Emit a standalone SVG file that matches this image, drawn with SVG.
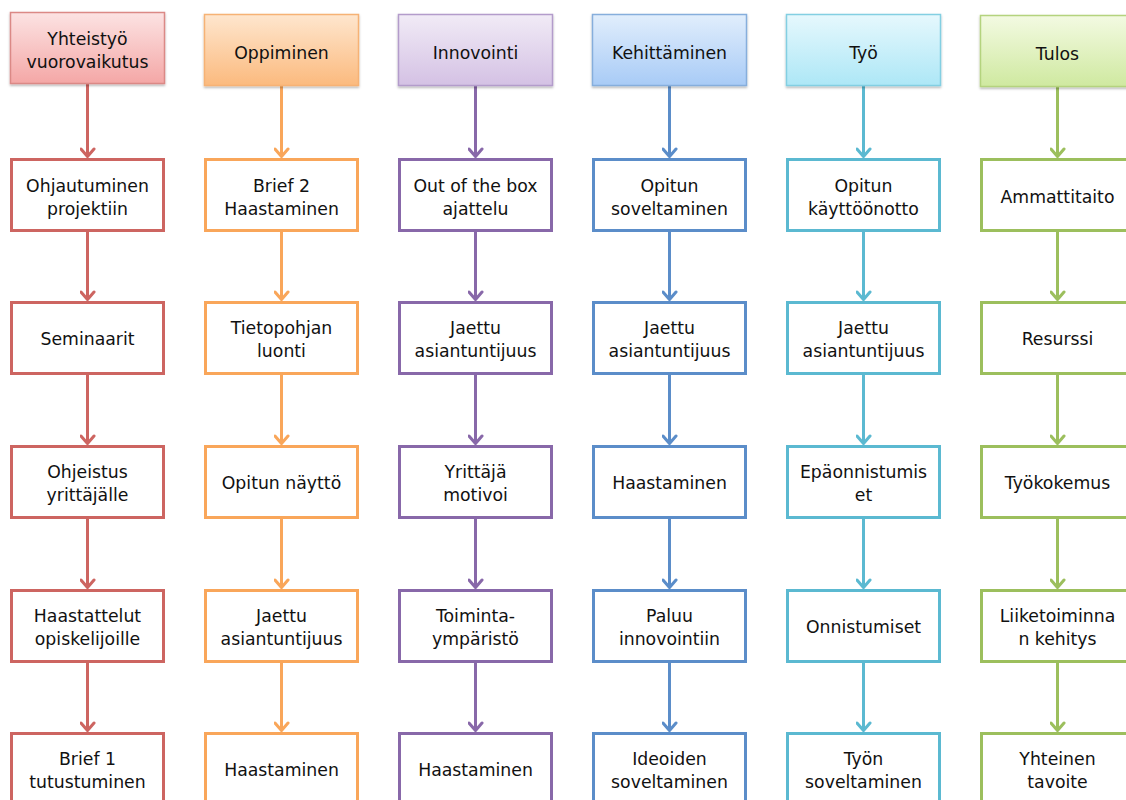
<svg xmlns="http://www.w3.org/2000/svg" width="1126" height="800" viewBox="0 0 1126 800">
<defs>
<linearGradient id="gR" x1="0" y1="0" x2="0" y2="1"><stop offset="0" stop-color="#FCE3E3"/><stop offset="1" stop-color="#F4A7A6"/></linearGradient>
<linearGradient id="gO" x1="0" y1="0" x2="0" y2="1"><stop offset="0" stop-color="#FEE6CE"/><stop offset="1" stop-color="#FBBA7E"/></linearGradient>
<linearGradient id="gP" x1="0" y1="0" x2="0" y2="1"><stop offset="0" stop-color="#F1EBF6"/><stop offset="1" stop-color="#D4C1E4"/></linearGradient>
<linearGradient id="gB" x1="0" y1="0" x2="0" y2="1"><stop offset="0" stop-color="#E1EEFC"/><stop offset="1" stop-color="#A8CBF6"/></linearGradient>
<linearGradient id="gC" x1="0" y1="0" x2="0" y2="1"><stop offset="0" stop-color="#E6F8FD"/><stop offset="1" stop-color="#ADE7F6"/></linearGradient>
<linearGradient id="gG" x1="0" y1="0" x2="0" y2="1"><stop offset="0" stop-color="#F3FAE2"/><stop offset="1" stop-color="#CFE9A0"/></linearGradient>
<filter id="sh" x="-10%" y="-10%" width="120%" height="130%"><feDropShadow dx="0" dy="1.5" stdDeviation="1.2" flood-color="#000" flood-opacity="0.3"/></filter>
<marker id="aR" viewBox="0 0 16 12" refX="8" refY="10" markerWidth="16" markerHeight="12" markerUnits="userSpaceOnUse"><path d="M1.5,2 L8,9.5 L14.5,2" fill="none" stroke="#CD6561" stroke-width="3" stroke-linecap="round" stroke-linejoin="round"/></marker>
<marker id="aO" viewBox="0 0 16 12" refX="8" refY="10" markerWidth="16" markerHeight="12" markerUnits="userSpaceOnUse"><path d="M1.5,2 L8,9.5 L14.5,2" fill="none" stroke="#F9A65A" stroke-width="3" stroke-linecap="round" stroke-linejoin="round"/></marker>
<marker id="aP" viewBox="0 0 16 12" refX="8" refY="10" markerWidth="16" markerHeight="12" markerUnits="userSpaceOnUse"><path d="M1.5,2 L8,9.5 L14.5,2" fill="none" stroke="#8868A9" stroke-width="3" stroke-linecap="round" stroke-linejoin="round"/></marker>
<marker id="aB" viewBox="0 0 16 12" refX="8" refY="10" markerWidth="16" markerHeight="12" markerUnits="userSpaceOnUse"><path d="M1.5,2 L8,9.5 L14.5,2" fill="none" stroke="#5B8DC9" stroke-width="3" stroke-linecap="round" stroke-linejoin="round"/></marker>
<marker id="aC" viewBox="0 0 16 12" refX="8" refY="10" markerWidth="16" markerHeight="12" markerUnits="userSpaceOnUse"><path d="M1.5,2 L8,9.5 L14.5,2" fill="none" stroke="#5BB9D1" stroke-width="3" stroke-linecap="round" stroke-linejoin="round"/></marker>
<marker id="aG" viewBox="0 0 16 12" refX="8" refY="10" markerWidth="16" markerHeight="12" markerUnits="userSpaceOnUse"><path d="M1.5,2 L8,9.5 L14.5,2" fill="none" stroke="#9CBF5D" stroke-width="3" stroke-linecap="round" stroke-linejoin="round"/></marker>
</defs>
<style>
text{font-family:"DejaVu Sans","Liberation Sans",sans-serif;font-size:17.3px;fill:#111;text-anchor:middle}
.box{fill:#fff;stroke-width:3}
.hd{stroke-width:1.5;filter:url(#sh)}
.c{fill:none;stroke-width:3}
.r{stroke:#CD6561}.o{stroke:#F9A65A}.p{stroke:#8868A9}.b{stroke:#5B8DC9}.cy{stroke:#5BB9D1}.g{stroke:#9CBF5D}
</style>
<rect width="1126" height="800" fill="#fff"/>

<g id="connectors">
<g class="c r" marker-end="url(#aR)">
<line x1="87.5" y1="84" x2="87.5" y2="157"/><line x1="87.5" y1="231" x2="87.5" y2="300"/><line x1="87.5" y1="374" x2="87.5" y2="444"/><line x1="87.5" y1="518" x2="87.5" y2="588"/><line x1="87.5" y1="662" x2="87.5" y2="731"/>
</g>
<g class="c o" marker-end="url(#aO)">
<line x1="281.5" y1="86" x2="281.5" y2="157"/><line x1="281.5" y1="231" x2="281.5" y2="300"/><line x1="281.5" y1="374" x2="281.5" y2="444"/><line x1="281.5" y1="518" x2="281.5" y2="588"/><line x1="281.5" y1="662" x2="281.5" y2="731"/>
</g>
<g class="c p" marker-end="url(#aP)">
<line x1="475.5" y1="86" x2="475.5" y2="157"/><line x1="475.5" y1="231" x2="475.5" y2="300"/><line x1="475.5" y1="374" x2="475.5" y2="444"/><line x1="475.5" y1="518" x2="475.5" y2="588"/><line x1="475.5" y1="662" x2="475.5" y2="731"/>
</g>
<g class="c b" marker-end="url(#aB)">
<line x1="669.5" y1="86" x2="669.5" y2="157"/><line x1="669.5" y1="231" x2="669.5" y2="300"/><line x1="669.5" y1="374" x2="669.5" y2="444"/><line x1="669.5" y1="518" x2="669.5" y2="588"/><line x1="669.5" y1="662" x2="669.5" y2="731"/>
</g>
<g class="c cy" marker-end="url(#aC)">
<line x1="863.5" y1="86" x2="863.5" y2="157"/><line x1="863.5" y1="231" x2="863.5" y2="300"/><line x1="863.5" y1="374" x2="863.5" y2="444"/><line x1="863.5" y1="518" x2="863.5" y2="588"/><line x1="863.5" y1="662" x2="863.5" y2="731"/>
</g>
<g class="c g" marker-end="url(#aG)">
<line x1="1057.5" y1="87" x2="1057.5" y2="157"/><line x1="1057.5" y1="231" x2="1057.5" y2="300"/><line x1="1057.5" y1="374" x2="1057.5" y2="444"/><line x1="1057.5" y1="518" x2="1057.5" y2="588"/><line x1="1057.5" y1="662" x2="1057.5" y2="731"/>
</g>
</g>

<!-- Column 1 -->
<g id="h1"><rect class="hd" x="10.5" y="12.5" width="154" height="71" fill="url(#gR)" stroke="#DB8986"/><text x="87.5" y="45">Yhteistyö</text><text x="87.5" y="68">vuorovaikutus</text></g>
<g id="n1_1"><rect class="box r" x="11.5" y="159.5" width="152" height="71"/><text x="87.5" y="192">Ohjautuminen</text><text x="87.5" y="215">projektiin</text></g>
<g id="n1_2"><rect class="box r" x="11.5" y="302.5" width="152" height="71"/><text x="87.5" y="345">Seminaarit</text></g>
<g id="n1_3"><rect class="box r" x="11.5" y="446.5" width="152" height="71"/><text x="87.5" y="478">Ohjeistus</text><text x="87.5" y="501">yrittäjälle</text></g>
<g id="n1_4"><rect class="box r" x="11.5" y="590.5" width="152" height="71"/><text x="87.5" y="622">Haastattelut</text><text x="87.5" y="645">opiskelijoille</text></g>
<g id="n1_5"><rect class="box r" x="11.5" y="733.5" width="152" height="80"/><text x="87.5" y="765">Brief 1</text><text x="87.5" y="788">tutustuminen</text></g>

<!-- Column 2 -->
<g id="h2"><rect class="hd" x="204.5" y="14.5" width="154" height="71" fill="url(#gO)" stroke="#F6B274"/><text x="281.5" y="59">Oppiminen</text></g>
<g id="n2_1"><rect class="box o" x="205.5" y="159.5" width="152" height="71"/><text x="281.5" y="192">Brief 2</text><text x="281.5" y="215">Haastaminen</text></g>
<g id="n2_2"><rect class="box o" x="205.5" y="302.5" width="152" height="71"/><text x="281.5" y="334">Tietopohjan</text><text x="281.5" y="357">luonti</text></g>
<g id="n2_3"><rect class="box o" x="205.5" y="446.5" width="152" height="71"/><text x="281.5" y="489">Opitun näyttö</text></g>
<g id="n2_4"><rect class="box o" x="205.5" y="590.5" width="152" height="71"/><text x="281.5" y="622">Jaettu</text><text x="281.5" y="645">asiantuntijuus</text></g>
<g id="n2_5"><rect class="box o" x="205.5" y="733.5" width="152" height="80"/><text x="281.5" y="776">Haastaminen</text></g>

<!-- Column 3 -->
<g id="h3"><rect class="hd" x="398.5" y="14.5" width="154" height="71" fill="url(#gP)" stroke="#B39CCB"/><text x="475.5" y="59">Innovointi</text></g>
<g id="n3_1"><rect class="box p" x="399.5" y="159.5" width="152" height="71"/><text x="475.5" y="192">Out of the box</text><text x="475.5" y="215">ajattelu</text></g>
<g id="n3_2"><rect class="box p" x="399.5" y="302.5" width="152" height="71"/><text x="475.5" y="334">Jaettu</text><text x="475.5" y="357">asiantuntijuus</text></g>
<g id="n3_3"><rect class="box p" x="399.5" y="446.5" width="152" height="71"/><text x="475.5" y="478">Yrittäjä</text><text x="475.5" y="501">motivoi</text></g>
<g id="n3_4"><rect class="box p" x="399.5" y="590.5" width="152" height="71"/><text x="475.5" y="622">Toiminta-</text><text x="475.5" y="645">ympäristö</text></g>
<g id="n3_5"><rect class="box p" x="399.5" y="733.5" width="152" height="80"/><text x="475.5" y="776">Haastaminen</text></g>

<!-- Column 4 -->
<g id="h4"><rect class="hd" x="592.5" y="14.5" width="154" height="71" fill="url(#gB)" stroke="#86AEDC"/><text x="669.5" y="59">Kehittäminen</text></g>
<g id="n4_1"><rect class="box b" x="593.5" y="159.5" width="152" height="71"/><text x="669.5" y="192">Opitun</text><text x="669.5" y="215">soveltaminen</text></g>
<g id="n4_2"><rect class="box b" x="593.5" y="302.5" width="152" height="71"/><text x="669.5" y="334">Jaettu</text><text x="669.5" y="357">asiantuntijuus</text></g>
<g id="n4_3"><rect class="box b" x="593.5" y="446.5" width="152" height="71"/><text x="669.5" y="489">Haastaminen</text></g>
<g id="n4_4"><rect class="box b" x="593.5" y="590.5" width="152" height="71"/><text x="669.5" y="622">Paluu</text><text x="669.5" y="645">innovointiin</text></g>
<g id="n4_5"><rect class="box b" x="593.5" y="733.5" width="152" height="80"/><text x="669.5" y="765">Ideoiden</text><text x="669.5" y="788">soveltaminen</text></g>

<!-- Column 5 -->
<g id="h5"><rect class="hd" x="786.5" y="14.5" width="154" height="71" fill="url(#gC)" stroke="#83CFE2"/><text x="863.5" y="59">Työ</text></g>
<g id="n5_1"><rect class="box cy" x="787.5" y="159.5" width="152" height="71"/><text x="863.5" y="192">Opitun</text><text x="863.5" y="215">käyttöönotto</text></g>
<g id="n5_2"><rect class="box cy" x="787.5" y="302.5" width="152" height="71"/><text x="863.5" y="334">Jaettu</text><text x="863.5" y="357">asiantuntijuus</text></g>
<g id="n5_3"><rect class="box cy" x="787.5" y="446.5" width="152" height="71"/><text x="863.5" y="478">Epäonnistumis</text><text x="863.5" y="501">et</text></g>
<g id="n5_4"><rect class="box cy" x="787.5" y="590.5" width="152" height="71"/><text x="863.5" y="633">Onnistumiset</text></g>
<g id="n5_5"><rect class="box cy" x="787.5" y="733.5" width="152" height="80"/><text x="863.5" y="765">Työn</text><text x="863.5" y="788">soveltaminen</text></g>

<!-- Column 6 -->
<g id="h6"><rect class="hd" x="980.5" y="15.5" width="154" height="71" fill="url(#gG)" stroke="#B4D37E"/><text x="1057.5" y="60">Tulos</text></g>
<g id="n6_1"><rect class="box g" x="981.5" y="159.5" width="152" height="71"/><text x="1057.5" y="203">Ammattitaito</text></g>
<g id="n6_2"><rect class="box g" x="981.5" y="302.5" width="152" height="71"/><text x="1057.5" y="345">Resurssi</text></g>
<g id="n6_3"><rect class="box g" x="981.5" y="446.5" width="152" height="71"/><text x="1057.5" y="489">Työkokemus</text></g>
<g id="n6_4"><rect class="box g" x="981.5" y="590.5" width="152" height="71"/><text x="1057.5" y="622">Liiketoiminna</text><text x="1057.5" y="645">n kehitys</text></g>
<g id="n6_5"><rect class="box g" x="981.5" y="733.5" width="152" height="80"/><text x="1057.5" y="765">Yhteinen</text><text x="1057.5" y="788">tavoite</text></g>
</svg>
